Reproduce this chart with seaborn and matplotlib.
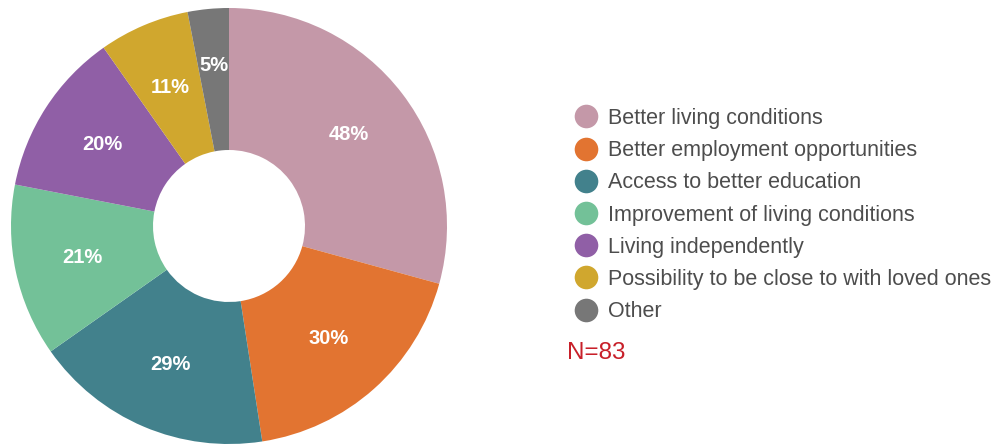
import matplotlib
matplotlib.use("Agg")
import matplotlib.pyplot as plt
from matplotlib.lines import Line2D
import seaborn as sns

categories = [
    "Better living conditions",
    "Better employment opportunities",
    "Access to better education",
    "Improvement of living conditions",
    "Living independently",
    "Possibility to be close to with loved ones",
    "Other",
]
values = [48, 30, 29, 21, 20, 11, 5]
colors = ["#c498a8", "#e27431", "#42818c", "#73c198", "#905fa6", "#d0a72e", "#777777"]
sample_note = "N=83"

sns.set_theme(style="white")
plt.rcParams["font.family"] = ["Liberation Sans", "DejaVu Sans"]

fig = plt.figure(figsize=(9.96, 4.45), dpi=100)
W, H = 996, 445
cx, cy, R = 229, 226, 218
ax = fig.add_axes([(cx - R) / W, (H - cy - R) / H, 2 * R / W, 2 * R / H])

pct_labels = [f"{v}%" for v in values]
wedges, texts = ax.pie(
    values,
    colors=colors,
    startangle=90,
    counterclock=False,
    labels=pct_labels,
    labeldistance=0.69,
    radius=1,
    wedgeprops=dict(width=1 - 76 / 218, linewidth=0),
    textprops=dict(color="white", fontsize=14.5, fontweight="bold", ha="center", va="center"),
)
# the small "Other" slice label sits a bit further out
texts[-1].set_position((texts[-1].get_position()[0] * 1.07, texts[-1].get_position()[1] * 1.07))
ax.set_xlim(-1, 1)
ax.set_ylim(-1, 1)
ax.set_aspect("equal")
ax.axis("off")

handles = [
    Line2D([0], [0], marker="o", linestyle="", markersize=17, markerfacecolor=c, markeredgewidth=0)
    for c in colors
]
leg = fig.legend(
    handles,
    categories,
    loc="upper left",
    bbox_to_anchor=(576 / W, 1 - 108 / H),
    frameon=False,
    borderpad=0,
    borderaxespad=0,
    handlelength=0.9,
    handletextpad=0.6,
    labelspacing=0.52,
    fontsize=15.5,
)
for t in leg.get_texts():
    t.set_color("#4d4d4d")

fig.text(567 / W, 1 - 353 / H, sample_note, color="#c8202a", fontsize=17.5, ha="left", va="center")

fig.savefig("out.png", dpi=100)
